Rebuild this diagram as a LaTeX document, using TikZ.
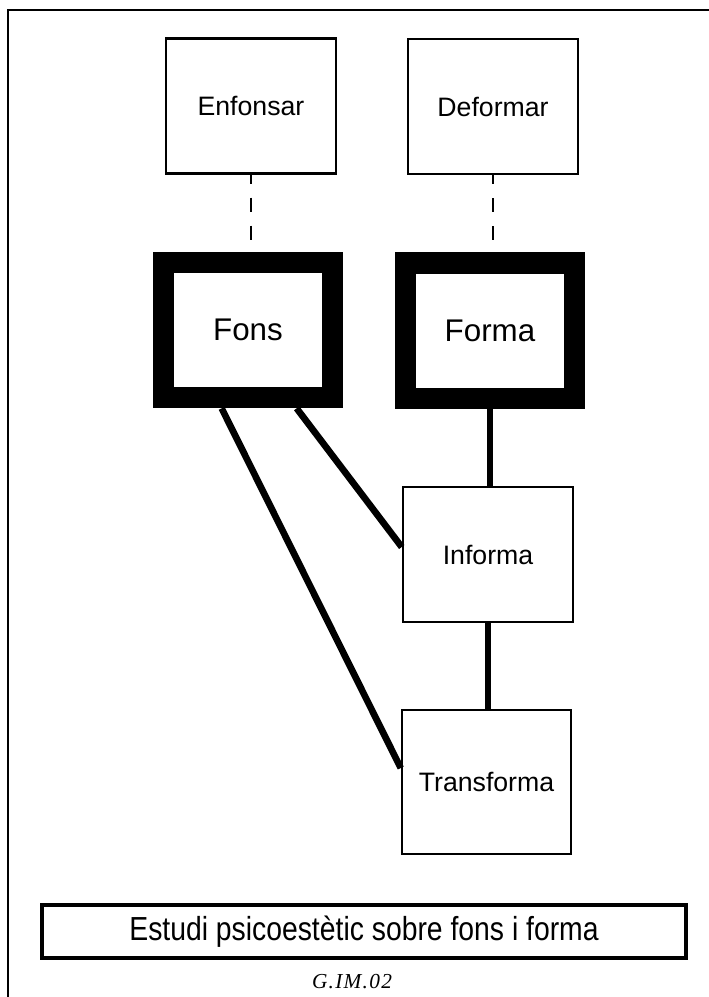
\documentclass[tikz,border=0pt]{standalone}
\usepackage{fontspec}
\setmainfont{Liberation Sans}
\newfontfamily\narrowfont[FakeStretch=0.85]{Liberation Sans}
\newfontfamily\codefont[LetterSpace=6]{Liberation Serif}
\usetikzlibrary{calc}
\tikzset{
  smallbox/.style={draw, line width=1.9pt, minimum width=127.5pt, minimum height=101.5pt, font=\fontsize{20}{22}\selectfont, inner sep=0pt},
  bigbox/.style={draw, line width=16pt, minimum width=127pt, minimum height=101.5pt, font=\fontsize{23.5}{26}\selectfont, inner sep=0pt},
  dashlink/.style={line width=1.9pt, dash pattern=on 10.5pt off 10.5pt, dash phase=4pt},
  thicklink/.style={line width=5pt},
  titlebox/.style={draw, line width=3pt, minimum width=483pt, minimum height=40pt, inner sep=0pt},
  frameline/.style={line width=1.5pt}
}
\begin{document}
\begin{tikzpicture}[x=0.75pt,y=-0.75pt]
\useasboundingbox (0,0) rectangle (709,997);
\draw[frameline] (8,1005) -- (8,10) -- (715,10);

\node[smallbox] (enf) at (251,106) {Enfonsar};
\node[smallbox] (def) at (493,106.5) {Deformar};
\node[bigbox] (fons) at (248,330) {Fons};
\node[bigbox] (forma) at (490,330.5) {Forma};
\node[smallbox] (inf) at (488,554.5) {Informa};
\node[smallbox, minimum width=126.75pt, minimum height=108pt] (trans) at (486.5,782) {Transforma};

\draw[dashlink] (enf.south) -- (enf.south |- fons.north);
\draw[dashlink] (def.south) -- (def.south |- forma.north);

\draw[thicklink] ($(fons.south west)+(69,0)$) -- ($(trans.west)+(0,-14)$);
\draw[thicklink] ($(fons.south west)+(144,0)$) -- ($(inf.west)+(0,-7.5)$);
\draw[thicklink] (forma.south) -- (forma.south |- inf.north);
\draw[thicklink] (inf.south) -- (inf.south |- trans.north);

\node[titlebox] (title) at (364,931.5) {\narrowfont\fontsize{25}{28}\selectfont Estudi psicoestètic sobre fons i forma};
\node[font=\codefont\itshape\fontsize{16}{18}\selectfont, inner sep=0pt] (code) at (352,982) {G.IM.02};
\end{tikzpicture}
\end{document}
